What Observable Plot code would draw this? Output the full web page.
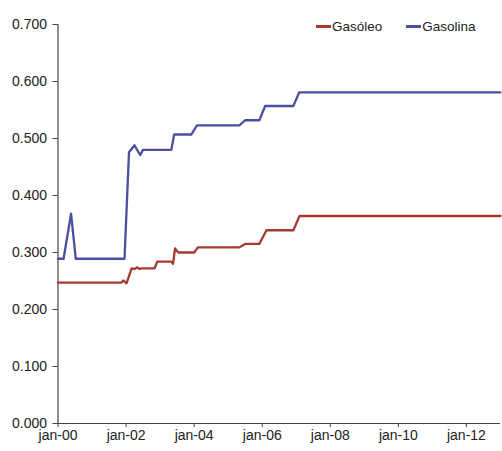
<!DOCTYPE html>
<html>
<head>
<meta charset="utf-8">
<script src="https://cdn.jsdelivr.net/npm/d3@7"></script>
<script src="https://cdn.jsdelivr.net/npm/@observablehq/plot@0.6"></script>
<style>
  body { margin: 0; background: #fff; }
  #wrap { position: relative; width: 502px; height: 451px; font-family: "Liberation Sans", Arial, sans-serif; color: #222; }
  #legend { position: absolute; top: 19px; left: 316px; display: flex; align-items: center; font-size: 13.5px; color: #222; white-space: nowrap; }
  .item { display: flex; align-items: center; }
  .sw { display: inline-block; width: 15px; height: 3px; margin-right: 1px; }
</style>
</head>
<body>
<div id="wrap"><div id="legend"></div></div>
<script>
const seriesNames = ["Gasóleo", "Gasolina"];
const seriesColors = ["#a33b30", "#4a4f9e"];

const gasoleoDates = ["2000-01-01","2001-11-10","2001-12-01","2002-01-05","2002-03-01","2002-04-01","2002-05-01","2002-05-20","2002-06-15","2002-11-01","2002-12-01","2003-05-01","2003-05-20","2003-06-10","2003-07-15","2004-01-01","2004-02-10","2005-05-01","2005-07-01","2005-12-01","2006-02-15","2006-12-01","2007-02-05","2013-01-01"];
const gasoleoValues = [0.247,0.247,0.251,0.246,0.272,0.271,0.274,0.271,0.272,0.272,0.284,0.284,0.280,0.307,0.300,0.300,0.309,0.309,0.315,0.315,0.339,0.339,0.364,0.364];

const gasolinaDates = ["2000-01-01","2000-03-01","2000-05-20","2000-07-10","2001-12-15","2002-02-01","2002-04-01","2002-06-01","2002-07-01","2003-05-01","2003-06-01","2003-12-01","2004-02-01","2005-05-01","2005-07-01","2005-12-01","2006-02-01","2006-12-01","2007-02-01","2013-01-01"];
const gasolinaValues = [0.289,0.289,0.368,0.289,0.289,0.476,0.488,0.471,0.480,0.480,0.507,0.507,0.523,0.523,0.532,0.532,0.557,0.557,0.581,0.581];

const yTicks = [0, 0.1, 0.2, 0.3, 0.4, 0.5, 0.6, 0.7];
const xTickLabels = ["jan-00","jan-02","jan-04","jan-06","jan-08","jan-10","jan-12"];
const xTickDates = ["2000-01-01","2002-01-01","2004-01-01","2006-01-01","2008-01-01","2010-01-01","2012-01-01"];

const parse = d3.utcParse("%Y-%m-%d");
const rows = [];
gasoleoDates.forEach((d, i) => rows.push({date: parse(d), value: gasoleoValues[i], serie: seriesNames[0]}));
gasolinaDates.forEach((d, i) => rows.push({date: parse(d), value: gasolinaValues[i], serie: seriesNames[1]}));
const tickDates = xTickDates.map(parse);
const labelOf = new Map(tickDates.map((d, i) => [+d, xTickLabels[i]]));

const chart = Plot.plot({
  width: 502,
  height: 451,
  marginLeft: 57.5,
  marginRight: 2,
  marginTop: 24,
  marginBottom: 28,
  style: { fontFamily: "Liberation Sans, Arial, sans-serif", fontSize: "14px", color: "#222", background: "#fff" },
  x: { type: "utc", domain: [parse("2000-01-01"), parse("2013-01-01")] },
  y: { domain: [0, 0.7] },
  color: { domain: seriesNames, range: seriesColors },
  marks: [
    Plot.axisY({ ticks: yTicks, tickFormat: d3.format(".3f"), tickSize: 5, tickPadding: 6, label: null, stroke: "#444" }),
    Plot.axisX({ ticks: tickDates, tickFormat: d => labelOf.get(+d), tickSize: 4, tickPadding: 3, label: null, stroke: "#444" }),
    Plot.ruleX([parse("2000-01-01")], { stroke: "#444", strokeWidth: 1.2 }),
    Plot.ruleY([0], { stroke: "#444", strokeWidth: 1.2 }),
    Plot.line(rows, { x: "date", y: "value", z: "serie", stroke: "serie", strokeWidth: 2.3, strokeLinejoin: "round" })
  ]
});
document.getElementById("wrap").prepend(chart);

const legend = document.getElementById("legend");
seriesNames.forEach((n, i) => {
  const it = document.createElement("span");
  it.className = "item";
  if (i > 0) it.style.marginLeft = "24px";
  it.innerHTML = `<span class="sw" style="background:${seriesColors[i]}"></span>${n}`;
  legend.appendChild(it);
});
</script>
</body>
</html>
